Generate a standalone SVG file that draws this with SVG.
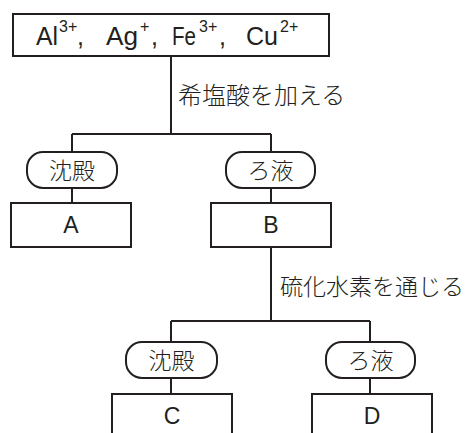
<svg xmlns="http://www.w3.org/2000/svg" width="475" height="433" viewBox="0 0 475 433">
<style>
.box{fill:#fff;stroke:#231f20;stroke-width:2}
.pill{fill:#fff;stroke:#231f20;stroke-width:2}
.ln{fill:none;stroke:#231f20;stroke-width:2}
.lat{font-family:"Liberation Sans",Arial,sans-serif;fill:#231f20}
.jp{font-family:"Noto Sans CJK JP","Noto Sans CJK SC",sans-serif;fill:#231f20;font-weight:300}
.sup{font-size:16px}
</style>
<rect width="475" height="433" fill="#fff"/>
<g id="connectors">
<path class="ln" d="M171,56 V134 M72,134 H271 M72,134 V152 M271,134 V152 M72,188 V203 M271,188 V203"/>
<path class="ln" d="M271,247 V321 M171,321 H370 M171,321 V342 M370,321 V342 M171,378 V394 M370,378 V394"/>
<text class="jp" x="178" y="104" font-size="24">希塩酸を加える</text>
<text class="jp" x="280" y="295" font-size="23">硫化水素を通じる</text>
</g>
<g id="ions">
<rect class="box" x="13" y="14" width="316" height="42"/>
<text class="lat" font-size="25" x="36" y="45" textLength="22" lengthAdjust="spacingAndGlyphs">Al</text>
<text class="lat sup" x="59" y="32">3+</text>
<text class="lat" font-size="25" x="77" y="45">,</text>
<text class="lat" font-size="25" x="106" y="45" textLength="32" lengthAdjust="spacingAndGlyphs">Ag</text>
<text class="lat sup" x="140" y="32">+</text>
<text class="lat" font-size="25" x="151" y="45">,</text>
<text class="lat" font-size="25" x="172" y="45" textLength="24" lengthAdjust="spacingAndGlyphs">Fe</text>
<text class="lat sup" x="199" y="32">3+</text>
<text class="lat" font-size="25" x="219" y="45">,</text>
<text class="lat" font-size="25" x="246" y="45" textLength="32" lengthAdjust="spacingAndGlyphs">Cu</text>
<text class="lat sup" x="280" y="32">2+</text>
</g>
<g id="ppt1">
<rect class="pill" x="27" y="152" width="90" height="36" rx="16"/>
<text class="jp" x="72" y="179" font-size="23" text-anchor="middle">沈殿</text>
</g>
<g id="filt1">
<rect class="pill" x="226" y="152" width="89" height="36" rx="16"/>
<text class="jp" x="270.5" y="179" font-size="23" text-anchor="middle">ろ液</text>
</g>
<g id="A">
<rect class="box" x="11" y="203" width="120" height="44"/>
<text class="lat" x="71" y="233" font-size="23" text-anchor="middle">A</text>
</g>
<g id="B">
<rect class="box" x="211" y="203" width="120" height="44"/>
<text class="lat" x="271" y="233" font-size="23" text-anchor="middle">B</text>
</g>
<g id="ppt2">
<rect class="pill" x="126" y="342" width="91" height="36" rx="16"/>
<text class="jp" x="171.5" y="369" font-size="23" text-anchor="middle">沈殿</text>
</g>
<g id="filt2">
<rect class="pill" x="326" y="342" width="89" height="36" rx="16"/>
<text class="jp" x="370.5" y="369" font-size="23" text-anchor="middle">ろ液</text>
</g>
<g id="C">
<path class="ln" d="M112,440 V394 H232 V440"/>
<text class="lat" x="172" y="424" font-size="23" text-anchor="middle">C</text>
</g>
<g id="D">
<path class="ln" d="M312,440 V394 H432 V440"/>
<text class="lat" x="372" y="424" font-size="23" text-anchor="middle">D</text>
</g>
</svg>
